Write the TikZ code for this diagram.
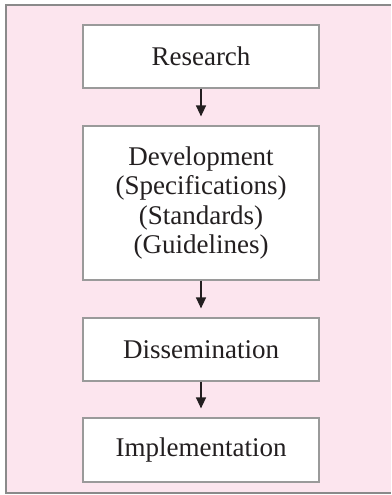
\documentclass[tikz,border=0pt]{standalone}
\usepackage{fontspec}
\setmainfont{Liberation Serif}
\usetikzlibrary{arrows.meta,positioning}
\definecolor{bgpink}{HTML}{FCE5EE}
\definecolor{framegray}{HTML}{8A8A8A}
\definecolor{boxgray}{HTML}{9A9A9A}
\definecolor{arrowdark}{HTML}{231F20}

\begin{document}
\begin{tikzpicture}[
  x=1pt, y=-1pt,
  stagebox/.style={
    draw=boxgray, line width=1.2pt, fill=white,
    font=\fontsize{27}{29.5}\selectfont, text=arrowdark,
    align=center, minimum width=236pt, inner sep=0pt
  },
  flow/.style={-{Triangle[length=11pt, width=10pt]}, arrowdark,
    line width=1.4pt, shorten >=9pt},
]
  \useasboundingbox (0,0) rectangle (391,495);

  % Background panel (open on the right)
  \fill[bgpink] (6,5) rectangle (391,493);
  \draw[framegray, line width=1.8pt] (391,5) -- (6,5) -- (6,493) -- (391,493);

  % Stages
  \node[stagebox, minimum height=63pt]  (research) at (201,56.5) {Research};
  \node[stagebox, minimum height=154pt] (develop)  at (201,203)
    {Development\\(Specifications)\\(Standards)\\(Guidelines)};
  \node[stagebox, minimum height=63pt]  (dissem)   at (201,349.5) {Dissemination};
  \node[stagebox, minimum height=64pt]  (implem)   at (201,450) {Implementation};

  % Arrows between stages
  \draw[flow] (research.south) -- (develop.north);
  \draw[flow] (develop.south) -- (dissem.north);
  \draw[flow] (dissem.south) -- (implem.north);

\end{tikzpicture}
\end{document}
